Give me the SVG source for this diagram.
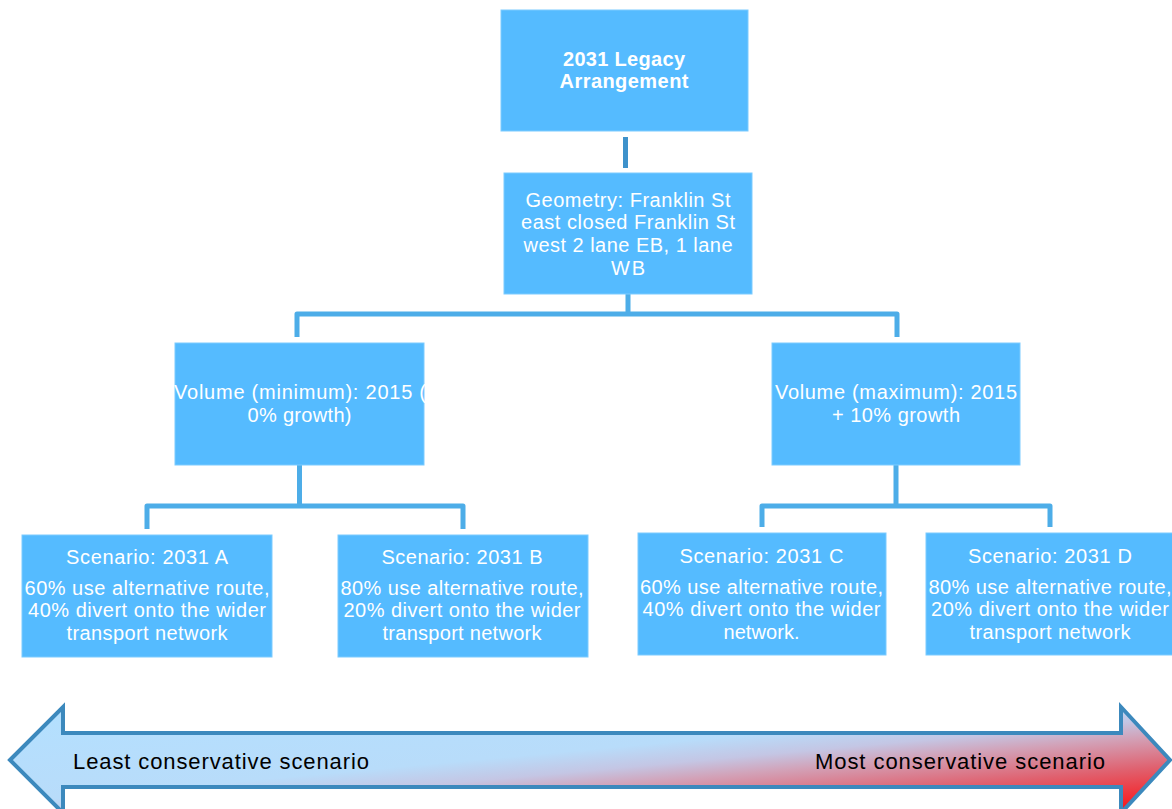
<svg xmlns="http://www.w3.org/2000/svg" width="1172" height="809" viewBox="0 0 1172 809">
  <defs>
    <style>
      .box { fill: #55BBFF; stroke: #7CCBFF; stroke-width: 1; }
      .lbl { font-family: "Liberation Sans", Arial, sans-serif; font-size: 20px; fill: #FFFFFF; text-anchor: middle; }
      .lbl-b { font-family: "Liberation Sans", Arial, sans-serif; font-size: 20px; font-weight: bold; fill: #FFFFFF; text-anchor: middle; }
      .wire { fill: none; stroke: #4DADE8; stroke-width: 5; stroke-linejoin: round; }
      .wire-top { fill: none; stroke: #3E92CB; stroke-width: 5; }
      .scale-lbl { font-family: "Liberation Sans", Arial, sans-serif; font-size: 22px; fill: #000000; }
    </style>
    <linearGradient id="scaleFill" x1="0" y1="0" x2="1" y2="1">
      <stop offset="0" stop-color="#B3E0FF"/>
      <stop offset="0.45" stop-color="#B8DCFA"/>
      <stop offset="0.55" stop-color="#C4C6E4"/>
      <stop offset="0.63" stop-color="#D2A2B8"/>
      <stop offset="0.78" stop-color="#E0606E"/>
      <stop offset="1" stop-color="#FF0808"/>
    </linearGradient>
  </defs>

  <!-- connectors -->
  <g id="connectors">
    <line class="wire-top" x1="625.5" y1="137" x2="625.5" y2="168"/>
    <path class="wire" d="M628 294 V314 M297 337 V314 H897 V337"/>
    <path class="wire" d="M299.5 465 V506 M147 529 V506 H463 V529"/>
    <path class="wire" d="M896 465 V506 M762 527 V506 H1050 V527"/>
  </g>

  <!-- root -->
  <g id="legacy">
    <rect class="box" x="501" y="10" width="247" height="121"/>
    <text class="lbl-b" x="624" y="66" textLength="122" lengthAdjust="spacing">2031 Legacy</text>
    <text class="lbl-b" x="624" y="88" textLength="129" lengthAdjust="spacing">Arrangement</text>
  </g>

  <g id="geometry">
    <rect class="box" x="504" y="173" width="248" height="121"/>
    <text class="lbl" x="628" y="207" textLength="205" lengthAdjust="spacing">Geometry: Franklin St</text>
    <text class="lbl" x="628" y="229" textLength="214" lengthAdjust="spacing">east closed Franklin St</text>
    <text class="lbl" x="628" y="252" textLength="209" lengthAdjust="spacing">west 2 lane EB, 1 lane</text>
    <text class="lbl" x="628" y="275" textLength="34" lengthAdjust="spacing">WB</text>
  </g>

  <g id="volume-min">
    <rect class="box" x="175" y="343" width="249" height="122"/>
    <text class="lbl" x="300" y="399" textLength="252" lengthAdjust="spacing">Volume (minimum): 2015 (</text>
    <text class="lbl" x="299.5" y="422" textLength="104" lengthAdjust="spacing">0% growth)</text>
  </g>

  <g id="volume-max">
    <rect class="box" x="772" y="343" width="248" height="122"/>
    <text class="lbl" x="896" y="399" textLength="242" lengthAdjust="spacing">Volume (maximum): 2015</text>
    <text class="lbl" x="896" y="422" textLength="128" lengthAdjust="spacing">+ 10% growth</text>
  </g>

  <g id="scenario-a">
    <rect class="box" x="22" y="535" width="250" height="122"/>
    <text class="lbl" x="147" y="564" textLength="162" lengthAdjust="spacing">Scenario: 2031 A</text>
    <text class="lbl" x="147" y="595" textLength="245" lengthAdjust="spacing">60% use alternative route,</text>
    <text class="lbl" x="147" y="617" textLength="238" lengthAdjust="spacing">40% divert onto the wider</text>
    <text class="lbl" x="147" y="640" textLength="161" lengthAdjust="spacing">transport network</text>
  </g>

  <g id="scenario-b">
    <rect class="box" x="338" y="535" width="250" height="122"/>
    <text class="lbl" x="462" y="564" textLength="161" lengthAdjust="spacing">Scenario: 2031 B</text>
    <text class="lbl" x="462" y="595" textLength="243" lengthAdjust="spacing">80% use alternative route,</text>
    <text class="lbl" x="462" y="617" textLength="237" lengthAdjust="spacing">20% divert onto the wider</text>
    <text class="lbl" x="462" y="640" textLength="159" lengthAdjust="spacing">transport network</text>
  </g>

  <g id="scenario-c">
    <rect class="box" x="638" y="533" width="248" height="122"/>
    <text class="lbl" x="761.5" y="563" textLength="164" lengthAdjust="spacing">Scenario: 2031 C</text>
    <text class="lbl" x="761.5" y="594" textLength="243" lengthAdjust="spacing">60% use alternative route,</text>
    <text class="lbl" x="761.5" y="616" textLength="238" lengthAdjust="spacing">40% divert onto the wider</text>
    <text class="lbl" x="761.5" y="639" textLength="76" lengthAdjust="spacing">network.</text>
  </g>

  <g id="scenario-d">
    <rect class="box" x="926" y="533" width="249" height="122"/>
    <text class="lbl" x="1050" y="563" textLength="164" lengthAdjust="spacing">Scenario: 2031 D</text>
    <text class="lbl" x="1050" y="594" textLength="243" lengthAdjust="spacing">80% use alternative route,</text>
    <text class="lbl" x="1050" y="616" textLength="238" lengthAdjust="spacing">20% divert onto the wider</text>
    <text class="lbl" x="1050" y="639" textLength="161" lengthAdjust="spacing">transport network</text>
  </g>

  <!-- conservativeness scale: double-headed arrow -->
  <g id="scale">
    <polygon points="10,760 63,707 63,733 1121,733 1121,707 1170,760 1121,813 1121,787 63,787 63,813"
             fill="url(#scaleFill)" stroke="#3C89BD" stroke-width="4" stroke-linejoin="miter"/>
    <text class="scale-lbl" x="73" y="769" textLength="296" lengthAdjust="spacing">Least conservative scenario</text>
    <text class="scale-lbl" x="815" y="769" textLength="290" lengthAdjust="spacing">Most conservative scenario</text>
  </g>
</svg>
